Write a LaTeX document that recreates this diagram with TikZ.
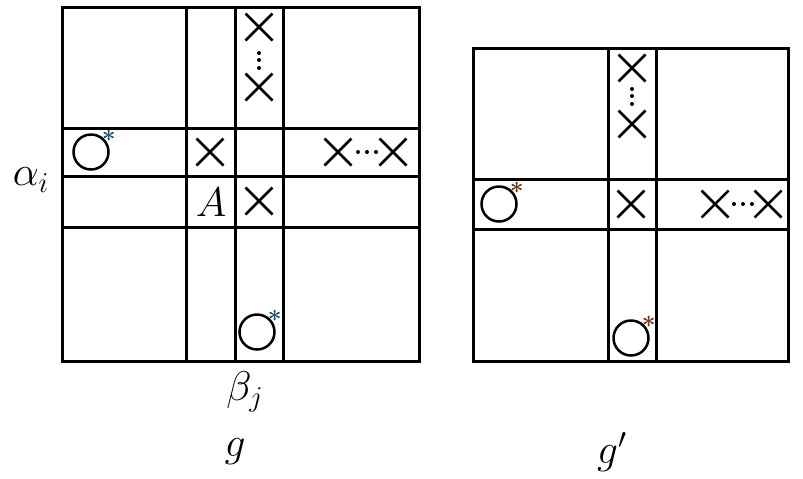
\documentclass[tikz,border=0pt]{standalone}
\usetikzlibrary{shapes.misc, positioning}
\definecolor{starBlue}{HTML}{1B4F72}
\definecolor{starBrown}{HTML}{6E3510}

\begin{document}
\begin{tikzpicture}[
        x=0.5pt,
        y=-0.5pt,
        font=\fontsize{20}{24}\selectfont,
        grid/.style={draw=black, line width=1.5pt},
        mark x/.style={cross out, draw=black, line width=1.25pt,
                       minimum size=13.5pt, inner sep=0pt, outer sep=0pt},
        hole/.style={circle, draw=black, line width=1.25pt,
                     minimum size=17.5pt, inner sep=0pt},
        starlbl/.style={font=\fontsize{13}{14}\selectfont\boldmath, inner sep=0pt,
                        label distance=-2pt},
        bluehole/.style={hole, label={[starlbl, text=starBlue]45:$*$}},
        brownhole/.style={hole, label={[starlbl, text=starBrown]45:$*$}},
        dotmark/.style={fill=black}
    ]
    \useasboundingbox (0,0) rectangle (803,478);

    % Left matrix g
    \draw[grid] (62,7) rectangle (419,361);
    \draw[grid] (186,7) -- (186,361);
    \draw[grid] (235,7) -- (235,361);
    \draw[grid] (283,7) -- (283,361);
    \draw[grid] (62,128) -- (419,128);
    \draw[grid] (62,176) -- (419,176);
    \draw[grid] (62,227) -- (419,227);

    \node[mark x] (gx1) at (259,27) {};
    \node[mark x] (gx2) at (259,87) {};
    \foreach \dy in {53,60,68}
        \fill[dotmark] (259,\dy) circle (2);
    \node[bluehole] (grow) at (91,152) {};
    \node[mark x] (gx3) at (210,152) {};
    \node[mark x] (gx4) at (338,152) {};
    \foreach \dx in {358,367,376}
        \fill[dotmark] (\dx,152) circle (2);
    \node[mark x] (gx5) at (393,152) {};
    \node (A) at (211,202) {$A$};
    \node[mark x] (gx6) at (259,201) {};
    \node[bluehole] (gcol) at (257,332) {};

    \node (alpha) at (31,180) {$\alpha_i$};
    \node (beta) at (245,392) {$\beta_j$};
    \node (g) at (235,452) {$g$};

    % Right matrix g'
    \draw[grid] (473,48) rectangle (788,361);
    \draw[grid] (608,48) -- (608,361);
    \draw[grid] (656,48) -- (656,361);
    \draw[grid] (473,179) -- (788,179);
    \draw[grid] (473,229) -- (788,229);

    \node[mark x] (hx1) at (632,68) {};
    \node[mark x] (hx2) at (632,124) {};
    \foreach \dy in {89,96,104}
        \fill[dotmark] (632,\dy) circle (2);
    \node[brownhole] (hrow) at (499,204) {};
    \node[mark x] (hx3) at (631,204) {};
    \node[mark x] (hx4) at (715,204) {};
    \foreach \dx in {734,743,752}
        \fill[dotmark] (\dx,204) circle (2);
    \node[mark x] (hx5) at (768,204) {};
    \node[brownhole] (hcol) at (631,338) {};

    \node (gp) at (612,452) {$g'$};

\end{tikzpicture}
\end{document}
